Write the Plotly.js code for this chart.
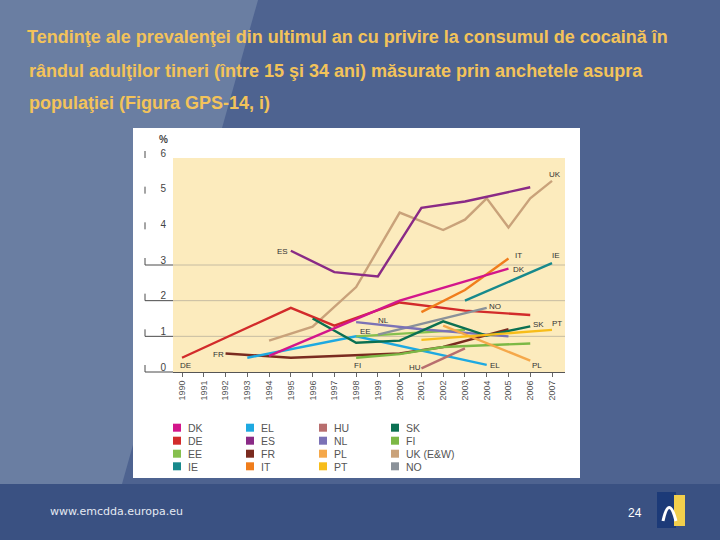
<!DOCTYPE html>
<html>
<head>
<meta charset="utf-8">
<script src="https://cdn.plot.ly/plotly-3.0.1.min.js"></script>
<style>
html,body{margin:0;padding:0;background:#4e6390;overflow:hidden;}
#chart{width:720px;height:540px;}
</style>
</head>
<body>
<div id="chart"></div>
<script>
// ---------------- DATA ----------------
const years = [1990,1991,1992,1993,1994,1995,1996,1997,1998,1999,2000,2001,2002,2003,2004,2005,2006,2007];
const yTicks = [0,1,2,3,4,5,6];

const dkYears = [1994, 2000, 2005];
const dkValues = [0.45, 2.0, 2.9];
const deYears = [1990, 1995, 1997, 2000, 2003, 2006];
const deValues = [0.4, 1.8, 1.3, 1.95, 1.72, 1.6];
const eeYears = [1998, 2003];
const eeValues = [1.0, 1.18];
const ieYears = [2003, 2007];
const ieValues = [2.0, 3.05];
const elYears = [1993, 1998, 2004];
const elValues = [0.4, 1.0, 0.2];
const esYears = [1995, 1997, 1999, 2001, 2003, 2006];
const esValues = [3.4, 2.8, 2.68, 4.6, 4.78, 5.18];
const frYears = [1992, 1995, 2000, 2002, 2005];
const frValues = [0.52, 0.4, 0.52, 0.7, 1.2];
const itYears = [2001, 2003, 2005];
const itValues = [1.68, 2.3, 3.18];
const huYears = [2001, 2003];
const huValues = [0.1, 0.66];
const nlYears = [1998, 2001, 2005];
const nlValues = [1.4, 1.2, 1.0];
const plYears = [2002, 2006];
const plValues = [1.3, 0.32];
const ptYears = [2001, 2007];
const ptValues = [0.9, 1.18];
const skYears = [1996, 1998, 2000, 2002, 2004, 2006];
const skValues = [1.5, 0.82, 0.88, 1.42, 1.02, 1.28];
const fiYears = [1998, 2000, 2002, 2004, 2006];
const fiValues = [0.4, 0.5, 0.7, 0.75, 0.8];
const ukYears = [1994, 1996, 1998, 2000, 2002, 2003, 2004, 2005, 2006, 2007];
const ukValues = [0.88, 1.27, 2.38, 4.47, 3.98, 4.27, 4.87, 4.05, 4.87, 5.36];
const noYears = [1999, 2004];
const noValues = [1.05, 1.8];

const legendNames = ['DK','DE','EE','IE','EL','ES','FR','IT','HU','NL','PL','PT','SK','FI','UK (E&W)','NO'];

const titleLines = [
  'Tendinţe ale prevalenţei din ultimul an cu privire la consumul de cocaină în',
  'rândul adulţilor tineri (între 15 şi 34 ani) măsurate prin anchetele asupra',
  'populaţiei (Figura GPS-14, i)'
];

// ---------------- STYLE ----------------
const colors = {
  DK:'#d3168b', DE:'#d22b2b', EE:'#86c04e', IE:'#17898c',
  EL:'#1ea9e1', ES:'#8a2a86', FR:'#7a2b1f', IT:'#f07d1c',
  HU:'#b86e6e', NL:'#7b72b6', PL:'#f5a84a', PT:'#f7bd1a',
  SK:'#0b7052', FI:'#7cb845', 'UK (E&W)':'#c9a27a', NO:'#8a9199'
};

const series = [
  ['UK (E&W)', ukYears, ukValues],
  ['DE', deYears, deValues],
  ['FR', frYears, frValues],
  ['EL', elYears, elValues],
  ['FI', fiYears, fiValues],
  ['HU', huYears, huValues],
  ['EE', eeYears, eeValues],
  ['NO', noYears, noValues],
  ['NL', nlYears, nlValues],
  ['SK', skYears, skValues],
  ['PL', plYears, plValues],
  ['PT', ptYears, ptValues],
  ['IT', itYears, itValues],
  ['IE', ieYears, ieValues],
  ['DK', dkYears, dkValues],
  ['ES', esYears, esValues]
];

const traces = series.map(([name, xs, ys]) => ({
  type: 'scatter', mode: 'lines', name: name, x: xs, y: ys,
  line: {color: colors[name], width: 2.4},
  showlegend: false, hoverinfo: 'x+y+name'
}));

// pixel helpers (plot area in canvas px)
const L = 173, R = 565, T = 158, B = 372;
const W = R - L, H = B - T;
const px = x => (x - L) / W;
const py = y => (B - y) / H;
const yMax = 6;

const shapes = [];
// slide background: lighter diagonal band
shapes.push({type:'path', xref:'paper', yref:'paper', layer:'below',
  path:`M ${px(0)},${py(0)} L ${px(258)},${py(0)} L ${px(122)},${py(484)} L ${px(0)},${py(484)} Z`,
  fillcolor:'#6a7ea2', line:{width:0}});
// footer bar
shapes.push({type:'rect', xref:'paper', yref:'paper', layer:'below',
  x0:px(0), x1:px(720), y0:py(540), y1:py(484), fillcolor:'#3a5182', line:{width:0}});
// white chart panel
shapes.push({type:'rect', xref:'paper', yref:'paper', layer:'below',
  x0:px(133), x1:px(580), y0:py(478), y1:py(128), fillcolor:'#ffffff', line:{width:0}});
// logo
shapes.push({type:'rect', xref:'paper', yref:'paper', layer:'above',
  x0:px(657), x1:px(676), y0:py(528), y1:py(492), fillcolor:'#1c3a78', line:{width:0}});
shapes.push({type:'rect', xref:'paper', yref:'paper', layer:'above',
  x0:px(674), x1:px(685), y0:py(526), y1:py(495), fillcolor:'#f2cf4c', line:{width:0}});
shapes.push({type:'path', xref:'paper', yref:'paper', layer:'above',
  path:`M ${px(663)},${py(521)} Q ${px(669)},${py(494)} ${px(676)},${py(521)}`,
  line:{color:'#ffffff', width:3}});
// beige plot background (subplot layer)
shapes.push({type:'rect', xref:'x domain', yref:'y domain', layer:'below',
  x0:0, x1:1, y0:0, y1:1, fillcolor:'#fcebbd', line:{width:0}});
// gridlines at 1,2,3
[1,2,3].forEach(v => shapes.push({type:'line', xref:'x domain', yref:'y', layer:'below',
  x0:0, x1:1, y0:v, y1:v, line:{color:'#c6bca2', width:1}}));
// y tick lines and small bars left of plot
const tickLeft = px(145);
yTicks.forEach(v => {
  if (v <= 3) shapes.push({type:'line', xref:'paper', yref:'paper', layer:'above',
    x0:tickLeft, x1:0, y0:v / yMax, y1:v / yMax, line:{color:'#4a4a4a', width:1}});
  shapes.push({type:'line', xref:'paper', yref:'paper', layer:'above',
    x0:tickLeft, x1:tickLeft, y0:v / yMax, y1:v / yMax + 7 / H, line:{color:'#4a4a4a', width:1}});
});

// legend (4 columns, column-major order)
const legCols = [173, 246, 319, 391];
const legRows = [423.7, 436.7, 449.7, 462.3];
const annotations = [];
legendNames.forEach((n, i) => {
  const c = Math.floor(i / 4), r = i % 4;
  const x0 = legCols[c], y0 = legRows[r];
  shapes.push({type:'rect', xref:'paper', yref:'paper', layer:'above',
    x0:px(x0), x1:px(x0 + 8), y0:py(y0 + 8), y1:py(y0), fillcolor:colors[n], line:{width:0}});
  annotations.push({xref:'paper', yref:'paper', x:px(x0 + 12.5), y:py(y0 + 4.3), xanchor:'left', yanchor:'middle',
    text:n, showarrow:false, font:{family:'Liberation Sans, Arial, sans-serif', size:10.5, color:'#555555'}});
});

// line end labels (positions in data space)
const lineLabels = [
  ['UK', 2007.12, 5.55], ['ES', 1994.6, 3.38], ['IT', 2005.45, 3.26], ['DK', 2005.5, 2.87],
  ['IE', 2007.17, 3.26], ['NO', 2004.4, 1.84], ['NL', 1999.24, 1.45], ['EE', 1998.42, 1.14],
  ['SK', 2006.4, 1.34], ['PT', 2007.23, 1.37], ['PL', 2006.33, 0.19], ['EL', 2004.4, 0.19],
  ['HU', 2000.69, 0.14], ['FI', 1998.04, 0.19], ['FR', 1991.69, 0.49], ['DE', 1990.15, 0.19]
];
lineLabels.forEach(([t, x, y]) => annotations.push({xref:'x', yref:'y', x:x, y:y, text:t, showarrow:false,
  xanchor:'center', yanchor:'middle', font:{family:'Liberation Sans, Arial, sans-serif', size:8, color:'#333333'}}));

// % unit label
annotations.push({xref:'paper', yref:'paper', x:px(163), y:py(139), text:'<b>%</b>', showarrow:false,
  xanchor:'center', yanchor:'middle', font:{family:'Liberation Sans, Arial, sans-serif', size:10, color:'#444'}});

// title lines 2 and 3
const titleFont = {family:'Liberation Sans Narrow, Arial Narrow, Liberation Sans, Arial, sans-serif', size:18, color:'#f3c35a', weight:700};
[[titleLines[1], 71], [titleLines[2], 103]].forEach(([t, y]) => annotations.push({
  xref:'paper', yref:'paper', x:px(27), y:py(y), xanchor:'left', yanchor:'middle',
  text:t, showarrow:false, font:titleFont}));

// footer
annotations.push({xref:'paper', yref:'paper', x:px(48), y:py(512), xanchor:'left', yanchor:'middle',
  text:'www.emcdda.europa.eu', showarrow:false, font:{family:'DejaVu Sans, sans-serif', size:11, color:'#e4e9f2'}});
annotations.push({xref:'paper', yref:'paper', x:px(635), y:py(513), xanchor:'center', yanchor:'middle',
  text:'24', showarrow:false, font:{family:'Liberation Sans Narrow, Liberation Sans, sans-serif', size:12, color:'#ffffff'}});

const layout = {
  width:720, height:540, autosize:false,
  margin:{l:L, r:720 - R, t:T, b:540 - B, pad:0},
  paper_bgcolor:'#4e6390', plot_bgcolor:'rgba(0,0,0,0)',
  title:{text:titleLines[0], x:27/720, xanchor:'left', xref:'container', y:1 - 37/540, yanchor:'middle', yref:'container', font:titleFont},
  showlegend:false,
  xaxis:{range:[1989.586, 2007.597], tickmode:'array', tickvals:years, ticktext:years.map(String),
    tickangle:-90, tickfont:{family:'Liberation Sans, Arial, sans-serif', size:9, color:'#555'},
    ticks:'outside', ticklen:4, tickcolor:'#666', showline:true, linecolor:'#555', linewidth:1,
    showgrid:false, zeroline:false, fixedrange:true},
  yaxis:{range:[0, yMax], tickmode:'array', tickvals:yTicks, ticktext:yTicks.map(String),
    ticks:'', showgrid:false, zeroline:false, showline:false,
    tickfont:{family:'Liberation Sans, Arial, sans-serif', size:10, color:'#444'},
    ticklabelshift:-5, ticklabelstandoff:6, fixedrange:true},
  shapes:shapes, annotations:annotations
};

Plotly.newPlot('chart', traces, layout, {displayModeBar:false, staticPlot:true});
</script>
</body>
</html>
